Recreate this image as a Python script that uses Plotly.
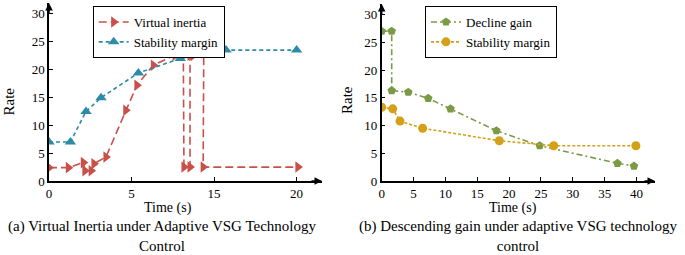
import plotly.graph_objects as go

# ---- data (left: virtual inertia) ----
vi_time = [0, 1.56, 2.77, 2.9, 3.4, 3.63, 4.6, 6.2, 7.1, 8.43, 10.18, 10.85, 10.9, 11.39, 11.39, 11.66, 12.5, 12.45, 20.1]
vi_rate = [2.4, 2.4, 3.3, 1.85, 1.85, 3.1, 4.3, 12.7, 17.2, 20.8, 22.6, 22.7, 2.5, 2.5, 22.6, 22.6, 23.0, 2.5, 2.5]
sm1_time = [0, 1.73, 2.99, 4.2, 7.22, 10.6, 14.3, 20.0]
sm1_rate = [7.0, 7.0, 12.5, 14.95, 19.4, 22.0, 23.5, 23.5]
left_tickvals = [0, 20 / 3, 40 / 3, 20]
left_ticktext = ["0", "5", "15", "20"]

# ---- data (right: descending gain) ----
dg_time = [0, 1.57, 1.57, 4.17, 7.3, 10.8, 18.0, 24.8, 37.0, 39.6]
dg_rate = [27.0, 27.0, 16.3, 16.0, 14.9, 13.0, 9.06, 6.36, 3.19, 2.7]
sm2_time = [0, 1.73, 2.87, 6.43, 18.45, 27.0, 39.9]
sm2_rate = [13.3, 13.0, 10.8, 9.5, 7.26, 6.36, 6.36]
right_tickvals = [0, 5, 10, 15, 20, 25, 30, 35, 40]
y_tickvals = [0, 5, 10, 15, 20, 25, 30]

W, H = 685, 255
FONT = "Liberation Serif"
RED = "#c9504a"
TEAL = "#2e8ba8"
GREEN = "#7a9a45"
GOLD = "#d4a017"

def px(x):
    return x / W

def py(y):
    return 1 - y / H

fig = go.Figure()
fig.add_trace(go.Scatter(x=vi_time, y=vi_rate, name="Virtual inertia", mode="lines+markers",
                         line=dict(color=RED, width=1.6, dash="8px,4px"),
                         marker=dict(symbol="triangle-right", size=10, color=RED),
                         xaxis="x", yaxis="y", legend="legend"))
fig.add_trace(go.Scatter(x=sm1_time, y=sm1_rate, name="Stability margin", mode="lines+markers",
                         line=dict(color=TEAL, width=1.6, dash="4px,3px"),
                         marker=dict(symbol="triangle-up", size=10, color=TEAL),
                         xaxis="x", yaxis="y", legend="legend"))
fig.add_trace(go.Scatter(x=dg_time, y=dg_rate, name="Decline gain", mode="lines+markers",
                         line=dict(color=GREEN, width=1.6, dash="6px,3px,2px,3px"),
                         marker=dict(symbol="pentagon", size=9, color=GREEN),
                         xaxis="x2", yaxis="y2", legend="legend2"))
fig.add_trace(go.Scatter(x=sm2_time, y=sm2_rate, name="Stability margin", mode="lines+markers",
                         line=dict(color=GOLD, width=1.6, dash="3px,2px"),
                         marker=dict(symbol="circle", size=9, color=GOLD),
                         xaxis="x2", yaxis="y2", legend="legend2"))

axis_common = dict(showline=True, linecolor="black", linewidth=1.5, ticks="inside", ticklen=4,
                   tickwidth=1, tickcolor="black", showgrid=False, zeroline=False,
                   automargin=False,
                   tickfont=dict(family=FONT, size=13, color="black"))

L_x0, L_x1 = 49, 322
R_x0, R_x1 = 381.7, 655
Y_bot, Y_top = 181, 3

fig.update_layout(
    width=W, height=H, margin=dict(l=0, r=0, t=0, b=0, pad=0, autoexpand=False),
    paper_bgcolor="white", plot_bgcolor="white",
    font=dict(family=FONT, color="black"),
    xaxis=dict(domain=[px(L_x0), px(L_x1)], range=[0, 22.05], anchor="y",
               tickvals=left_tickvals, ticktext=left_ticktext, **axis_common),
    yaxis=dict(domain=[py(Y_bot), py(Y_top)], range=[0, 31.96], anchor="x",
               tickvals=y_tickvals, **axis_common),
    xaxis2=dict(domain=[px(R_x0), px(R_x1)], range=[0, 42.9], anchor="y2",
                tickvals=right_tickvals, **axis_common),
    yaxis2=dict(domain=[py(Y_bot), py(4)], range=[0, 31.9], anchor="x2",
                tickvals=y_tickvals, **axis_common),
    legend=dict(x=px(92.7), y=py(6), xanchor="left", yanchor="top",
                bordercolor="black", borderwidth=1, bgcolor="white",
                font=dict(family=FONT, size=13, color="black"), itemwidth=30,
                tracegroupgap=0),
    legend2=dict(x=px(425), y=py(6), xanchor="left", yanchor="top",
                 bordercolor="black", borderwidth=1, bgcolor="white",
                 font=dict(family=FONT, size=13, color="black"), itemwidth=30,
                 tracegroupgap=0),
    showlegend=True,
)

ann = []
# axis arrowheads
for xa, ya, xend, yend in [("x", "y", 22.05, 0), ("x2", "y2", 42.9, 0)]:
    ann.append(dict(x=xend, y=yend, xref=xa, yref=ya, ax=-12, ay=0, text="", showarrow=True,
                    arrowhead=2, arrowsize=1, arrowwidth=1.5, arrowcolor="black"))
for xa, ya, yend in [("x", "y", 31.96), ("x2", "y2", 31.9)]:
    ann.append(dict(x=0, y=yend, xref=xa, yref=ya, ax=0, ay=12, text="", showarrow=True,
                    arrowhead=2, arrowsize=1, arrowwidth=1.5, arrowcolor="black"))

def text_ann(x, y, text, size, angle=0):
    return dict(x=px(x), y=py(y), xref="paper", yref="paper", text=text, textangle=angle,
                xanchor="center", yanchor="middle", showarrow=False,
                font=dict(family=FONT, size=size, color="black"))

# axis titles
ann.append(text_ann(8.5, 102, "Rate", 15, -90))
ann.append(text_ann(347, 100, "Rate", 15, -90))
ann.append(text_ann(168, 207.5, "Time (s)", 14))
ann.append(text_ann(513, 207.5, "Time (s)", 14))
# captions
ann.append(text_ann(162, 235.5, "(a) Virtual Inertia under Adaptive VSG Technology<br>Control", 15))
ann.append(text_ann(517.5, 236, "(b) Descending gain under adaptive VSG technology<br>control", 15))
fig.update_layout(annotations=ann)

fig.write_html("out.html", config={"displayModeBar": False},
               post_script="document.body.style.margin='0px';")
